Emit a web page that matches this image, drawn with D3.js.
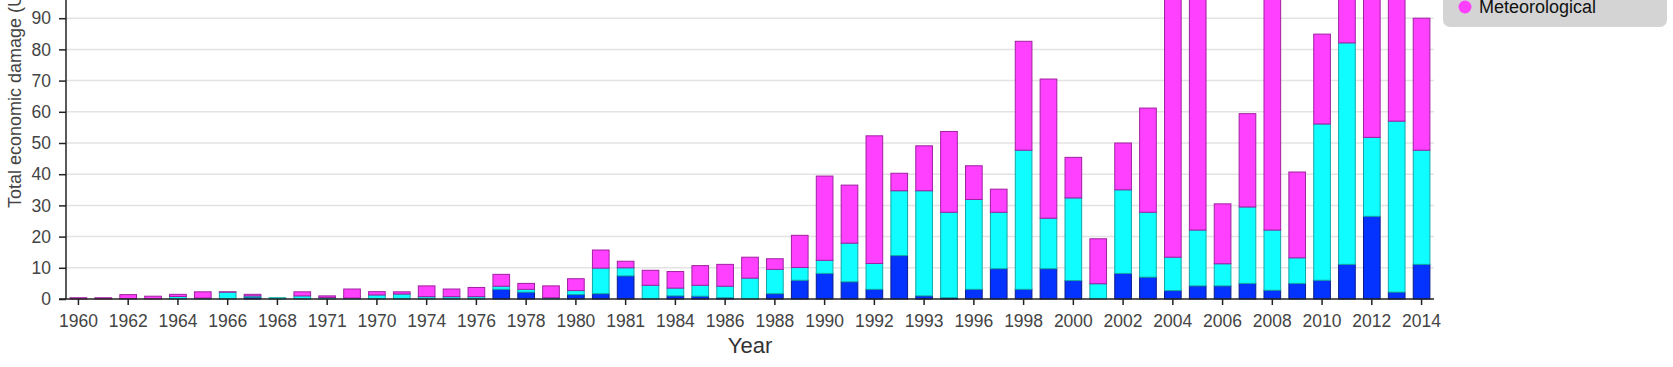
<!DOCTYPE html>
<html>
<head>
<meta charset="utf-8">
<script src="https://cdn.jsdelivr.net/npm/d3@7"></script>
<style>
  html, body { margin: 0; padding: 0; background: #fff; }
  svg { display: block; font-family: "Liberation Sans", Arial, Helvetica, sans-serif; }
</style>
</head>
<body>
<svg id="chart" width="1673" height="367"></svg>
<script>
// ---- data ----
const categories = ["1960","1961","1962","1963","1964","1965","1966","1967","1968","1969",
  "1971","1971","1970","1973","1974","1975","1976","1977","1978","1979",
  "1980","1981","1981","1983","1984","1985","1986","1987","1988","1989",
  "1990","1991","1992","1993","1993","1995","1996","1997","1998","1999",
  "2000","2001","2002","2003","2004","2005","2006","2007","2008","2009",
  "2010","2011","2012","2013","2014"];
const seriesNames = ["Climatological", "Hydrological", "Meteorological"];
const climatological = [0,0,0,0,0,0,0,0.6,0,0,
  0,0,0,0,0,0,0,3.1,2.2,0,
  1.4,1.7,7.4,0,1.0,0.9,0.4,0,1.7,6.0,
  8.2,5.5,3.1,13.9,1.0,0.4,3.1,9.7,3.1,9.7,
  5.9,0,8.2,7.0,2.7,4.2,4.2,5.0,2.8,5.0,
  6.0,11.1,26.5,2.2,11.1];
const hydrological = [0,0,0.1,0,0.8,0.3,2.2,0.4,0.4,1.0,
  0.5,0.3,1.3,1.6,0.75,0.75,0.75,1.0,0.9,0.4,
  1.3,8.2,2.6,4.4,2.5,3.5,3.7,6.7,7.8,4.1,
  4.2,12.4,8.3,20.8,33.7,27.4,28.8,18.1,44.6,16.2,
  26.5,4.9,26.8,20.8,10.7,17.9,7.1,24.5,19.3,8.2,
  50.1,71.0,25.3,54.8,36.6];
const meteorological = [0.4,0.4,1.3,0.9,0.7,2.0,0.1,0.5,0,1.3,
  0.5,2.9,1.05,0.7,3.45,2.45,2.95,3.8,1.9,3.8,
  3.8,5.8,2.1,4.8,5.3,6.3,7.0,6.7,3.4,10.3,
  27.0,18.6,40.9,5.6,14.4,25.9,10.8,7.4,34.9,44.6,
  13.0,14.4,15.0,33.4,100,180,19.2,29.9,80,27.5,
  28.8,30,60,45,42.3];
const yTicks = [0,10,20,30,40,50,60,70,80,90];
const colors = ["#0433ff", "#10fdff", "#ff40ff"];
const strokes = ["#0a1a8c", "#12a8a8", "#a020a0"];

// ---- layout ----
const svg = d3.select("#chart");
const x0 = 66, x1 = 1434, yBase = 299, pxPer10 = 31.2;

const x = d3.scaleBand().domain(d3.range(categories.length)).range([x0, x1])
  .paddingInner(0.33).paddingOuter(0.165);
const y = d3.scaleLinear().domain([0, 100]).range([yBase, yBase - pxPer10 * 10]);

// gridlines
svg.append("g").selectAll("line").data(yTicks.filter(d => d > 0)).join("line")
  .attr("x1", x0).attr("x2", x1)
  .attr("y1", d => y(d)).attr("y2", d => y(d))
  .attr("stroke", "#e3e3e3").attr("stroke-width", 1.5);

// stacked bars
const rows = categories.map((c, i) => ({
  i, c,
  Climatological: climatological[i],
  Hydrological: hydrological[i],
  Meteorological: meteorological[i]
}));
const stack = d3.stack().keys(seriesNames)(rows);
svg.append("g").selectAll("g").data(stack).join("g")
  .attr("fill", (d, k) => colors[k])
  .attr("stroke", (d, k) => strokes[k])
  .attr("stroke-width", 1)
  .selectAll("rect").data(d => d.filter(s => s[1] - s[0] > 0)).join("rect")
  .attr("x", d => x(d.data.i))
  .attr("width", x.bandwidth())
  .attr("y", d => y(d[1]))
  .attr("height", d => y(d[0]) - y(d[1]));

// y axis
const yAxis = d3.axisLeft(y).tickValues(yTicks).tickSize(7).tickPadding(8);
const gy = svg.append("g").attr("transform", `translate(${x0},0)`).call(yAxis);
gy.select(".domain").attr("stroke", "#222").attr("stroke-width", 1.5).attr("d", `M0,${y(100)}V${yBase}`);
gy.selectAll(".tick line").attr("stroke", "#222").attr("stroke-width", 1.5);
gy.selectAll(".tick text").attr("fill", "#444").style("font-size", "17.5px");

// x axis
const xAxis = d3.axisBottom(x).tickValues(d3.range(0, categories.length, 2))
  .tickFormat(i => categories[i]).tickSize(6).tickPadding(10);
const gx = svg.append("g").attr("transform", `translate(0,${yBase})`).call(xAxis);
gx.select(".domain").attr("stroke", "#222").attr("stroke-width", 1.5).attr("d", `M${x0 - 7},0H${x1}`);
gx.selectAll(".tick line").attr("stroke", "#222").attr("stroke-width", 1.5);
gx.selectAll(".tick text").attr("fill", "#444").style("font-size", "17.5px");

// axis titles
svg.append("text")
  .attr("transform", "translate(21,208) rotate(-90)")
  .attr("text-anchor", "start")
  .attr("fill", "#444").style("font-size", "18px")
  .text("Total economic damage (US$ billion)");
svg.append("text")
  .attr("x", (x0 + x1) / 2).attr("y", 353)
  .attr("text-anchor", "middle")
  .attr("fill", "#333").style("font-size", "22px")
  .text("Year");

// legend
const lg = svg.append("g");
lg.append("rect").attr("x", 1443).attr("y", -60).attr("width", 224).attr("height", 87)
  .attr("rx", 7).attr("fill", "#d4d4d4");
const items = lg.selectAll("g").data(seriesNames).join("g")
  .attr("transform", (d, k) => `translate(0,${7 - (seriesNames.length - 1 - k) * 24})`);
items.append("circle").attr("cx", 1465).attr("cy", 0).attr("r", 6.5)
  .attr("fill", (d, k) => colors[k]);
items.append("text").attr("x", 1479).attr("y", 6.3)
  .attr("fill", "#111").style("font-size", "18px").text(d => d);
</script>
</body>
</html>
